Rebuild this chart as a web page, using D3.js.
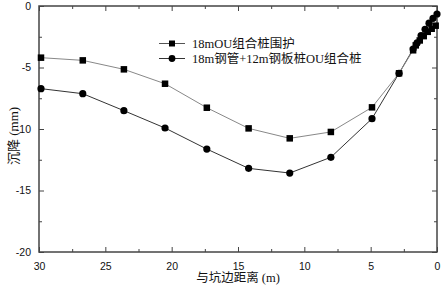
<!DOCTYPE html>
<html><head><meta charset="utf-8">
<script src="https://cdn.jsdelivr.net/npm/d3@7"></script>
<style>body{margin:0;background:#fff}svg{display:block}</style>
</head><body>
<svg id="c" width="443" height="287"></svg>
<script>
const xTicks = [30, 25, 20, 15, 10, 5, 0];
const yTicks = [0, -5, -10, -15, -20];
const seriesNames = ["18mOU组合桩围护", "18m钢管+12m钢板桩OU组合桩"];
const sqX = [29.85, 26.7, 23.6, 20.5, 17.35, 14.2, 11.1, 8.0, 4.9, 2.86, 1.8, 1.6, 1.3, 1.0, 0.7, 0.4, 0.1];
const sqY = [-4.2, -4.42, -5.15, -6.32, -8.27, -9.95, -10.76, -10.24, -8.24, -5.47, -3.6, -3.2, -2.8, -2.45, -2.1, -1.85, -1.6];
const ciX = [29.85, 26.7, 23.6, 20.5, 17.35, 14.2, 11.1, 8.0, 4.9, 2.86, 1.8, 1.5, 1.2, 0.9, 0.6, 0.3, 0.0];
const ciY = [-6.72, -7.13, -8.51, -9.92, -11.63, -13.2, -13.58, -12.3, -9.16, -5.47, -3.5, -3.0, -2.4, -1.9, -1.4, -1.0, -0.65];
const xLabel = "与坑边距离 (m)";
const yLabel = "沉降 (mm)";

const svg = d3.select("#c");
const L = 39, R = 437, T = 6, B = 252;
const x = d3.scaleLinear().domain([30, 0]).range([L, R]);
const y = d3.scaleLinear().domain([0, -20]).range([T, B]);
const frameColor = "#444";
const tickFont = "Arial, 'Liberation Sans', sans-serif";
const textFont = "'Liberation Serif', 'Noto Sans CJK SC', serif";
const fmt = d => String(d);

svg.append("rect").attr("x", L).attr("y", T).attr("width", R - L).attr("height", B - T)
  .attr("fill", "none").attr("stroke", frameColor).attr("stroke-width", 1.5);

const xMinor = d3.range(27.5, 0, -5);
const yMinor = d3.range(-2.5, -20, -5);

function styleAxis(g) {
  g.select(".domain").remove();
  g.selectAll("line").attr("stroke", frameColor).attr("stroke-width", 1);
  g.selectAll("text").attr("font-family", tickFont).attr("font-size", 10.5).attr("fill", "#111");
}
svg.append("g").attr("transform", `translate(0,${B})`)
  .call(d3.axisBottom(x).tickValues(xTicks).tickSize(-5).tickPadding(11).tickFormat(fmt))
  .call(styleAxis);
svg.append("g").attr("transform", `translate(0,${B})`)
  .call(d3.axisBottom(x).tickValues(xMinor).tickSize(-3).tickFormat(""))
  .call(styleAxis);
svg.append("g").attr("transform", `translate(0,${T})`)
  .call(d3.axisTop(x).tickValues(xTicks).tickSize(-5).tickFormat(""))
  .call(styleAxis);
svg.append("g").attr("transform", `translate(0,${T})`)
  .call(d3.axisTop(x).tickValues(xMinor).tickSize(-3).tickFormat(""))
  .call(styleAxis);
svg.append("g").attr("transform", `translate(${L},0)`)
  .call(d3.axisLeft(y).tickValues(yTicks).tickSize(-5).tickPadding(8).tickFormat(fmt))
  .call(styleAxis);
svg.append("g").attr("transform", `translate(${L},0)`)
  .call(d3.axisLeft(y).tickValues(yMinor).tickSize(-3).tickFormat(""))
  .call(styleAxis);
svg.append("g").attr("transform", `translate(${R},0)`)
  .call(d3.axisRight(y).tickValues(yTicks).tickSize(-5).tickFormat(""))
  .call(styleAxis);
svg.append("g").attr("transform", `translate(${R},0)`)
  .call(d3.axisRight(y).tickValues(yMinor).tickSize(-3).tickFormat(""))
  .call(styleAxis);

const line = d3.line().x(d => x(d[0])).y(d => y(d[1]));
const sq = sqX.map((v, i) => [v, sqY[i]]);
const ci = ciX.map((v, i) => [v, ciY[i]]);

svg.append("path").datum(ci).attr("d", line).attr("fill", "none").attr("stroke", "#333").attr("stroke-width", 1);
svg.append("path").datum(sq).attr("d", line).attr("fill", "none").attr("stroke", "#888").attr("stroke-width", 1);

const sqSize = 6.5;
svg.append("g").selectAll("rect").data(sq).join("rect")
  .attr("x", d => x(d[0]) - sqSize / 2).attr("y", d => y(d[1]) - sqSize / 2)
  .attr("width", sqSize).attr("height", sqSize).attr("fill", "#000");
svg.append("g").selectAll("circle").data(ci).join("circle")
  .attr("cx", d => x(d[0])).attr("cy", d => y(d[1])).attr("r", 3.6).attr("fill", "#000");

const lg = svg.append("g");
const lx0 = 159, lx1 = 185, ly = [43.5, 58.5];
lg.append("line").attr("x1", lx0).attr("x2", lx1).attr("y1", ly[0]).attr("y2", ly[0]).attr("stroke", "#555");
lg.append("rect").attr("x", (lx0 + lx1) / 2 - 3).attr("y", ly[0] - 3).attr("width", 6).attr("height", 6).attr("fill", "#000");
lg.append("line").attr("x1", lx0).attr("x2", lx1).attr("y1", ly[1]).attr("y2", ly[1]).attr("stroke", "#333");
lg.append("circle").attr("cx", (lx0 + lx1) / 2).attr("cy", ly[1]).attr("r", 3.4).attr("fill", "#000");
seriesNames.forEach((n, i) => {
  lg.append("text").attr("x", 192).attr("y", ly[i] + 4.5).text(n)
    .attr("font-family", textFont).attr("font-size", 12.5).attr("fill", "#111");
});

svg.append("text").attr("x", 238).attr("y", 282).attr("text-anchor", "middle").text(xLabel)
  .attr("font-family", textFont).attr("font-size", 12.5).attr("fill", "#111");
svg.append("text").attr("transform", "translate(18,136) rotate(-90)").attr("text-anchor", "middle").text(yLabel)
  .attr("font-family", textFont).attr("font-size", 13).attr("fill", "#111");
</script>
</body></html>
